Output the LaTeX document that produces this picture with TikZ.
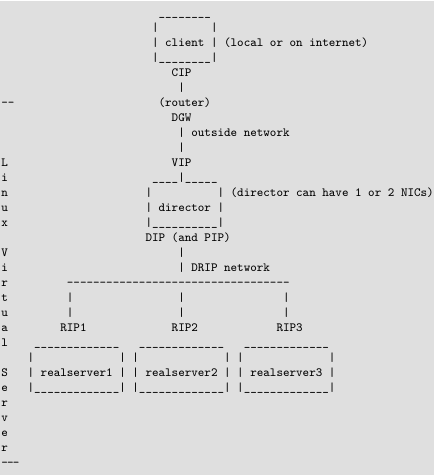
\documentclass[tikz,border=0pt]{standalone}
\definecolor{bg}{HTML}{DFDFDF}
\tikzset{txt/.style={anchor=base west,inner sep=0pt,outer sep=0pt,text=black,
  font=\fontsize{9.36pt}{11.25pt}\selectfont\ttfamily\frenchspacing}}
\newcommand\asciiput[4]{\node[txt] (#1) at ({1.4+6.55*(#2)},{16+15*(#3)}) {#4};}
\begin{document}
\begin{tikzpicture}[x=0.75pt,y=-0.75pt]
\fill[white] (0,0) rectangle (437,475);
\fill[bg] (0,1) rectangle (434,475);
\useasboundingbox (0,0) rectangle (437,475);
% left column: Linux Virtual Server
\foreach \ch/\rw in {L/10,i/11,n/12,u/13,x/14,V/16,i/17,r/18,t/19,u/20,a/21,l/22,S/24,e/25,r/26,v/27,e/28,r/29}
  {\asciiput{lv\rw}{0}{\rw}{\ch}}
\asciiput{topdash}{0}{6}{-\kern0pt-}
\asciiput{botdash}{0}{30}{\textemdash\kern-0.6pt\textemdash\kern-0.6pt\textemdash}
% client box
\asciiput{r0a}{24}{0}{\_\_\_\_\_\_\_\_}
\asciiput{r1a}{23}{1}{|}
\asciiput{r1b}{32}{1}{|}
\asciiput{r2a}{23}{2}{|}
\asciiput{client}{25}{2}{client}
\asciiput{r2b}{32}{2}{|}
\asciiput{clientnote}{34}{2}{(local or on internet)}
\asciiput{r3a}{23}{3}{|\_\_\_\_\_\_\_\_|}
\asciiput{cip}{26}{4}{CIP}
\asciiput{r5a}{27}{5}{|}
\asciiput{router}{24}{6}{(router)}
\asciiput{dgw}{26}{7}{DGW}
\asciiput{r8a}{27}{8}{|}
\asciiput{outside}{29}{8}{outside network}
\asciiput{r9a}{27}{9}{|}
\asciiput{vip}{26}{10}{VIP}
% director box
\asciiput{r11a}{23}{11}{\_\_\_\_|\_\_\_\_\_}
\asciiput{r12a}{22}{12}{|}
\asciiput{r12b}{33}{12}{|}
\asciiput{dirnote}{35}{12}{(director can have 1 or 2 NICs)}
\asciiput{r13a}{22}{13}{|}
\asciiput{director}{24}{13}{director}
\asciiput{r13b}{33}{13}{|}
\asciiput{r14a}{22}{14}{|\_\_\_\_\_\_\_\_\_\_|}
\asciiput{dip}{22}{15}{DIP (and PIP)}
\asciiput{r16a}{27}{16}{|}
\asciiput{r17a}{27}{17}{|}
\asciiput{drip}{29}{17}{DRIP network}
% DRIP network line
\foreach \c in {10,...,43} {\asciiput{d\c}{\c}{18}{-}}
\foreach \rw in {19,20} {
  \asciiput{b\rw a}{10}{\rw}{|}
  \asciiput{b\rw b}{27}{\rw}{|}
  \asciiput{b\rw c}{43}{\rw}{|}
}
\asciiput{rip1}{9}{21}{RIP1}
\asciiput{rip2}{26}{21}{RIP2}
\asciiput{rip3}{42}{21}{RIP3}
% real servers
\foreach \k/\c in {1/4,2/20,3/36} {
  \asciiput{top\k}{\c+1}{22}{\_\_\_\_\_\_\_\_\_\_\_\_\_}
  \asciiput{la\k}{\c}{23}{|}
  \asciiput{ra\k}{\c+14}{23}{|}
  \asciiput{lb\k}{\c}{24}{|}
  \asciiput{rs\k}{\c+2}{24}{realserver\k}
  \asciiput{rb\k}{\c+14}{24}{|}
  \asciiput{bot\k}{\c}{25}{|\_\_\_\_\_\_\_\_\_\_\_\_\_|}
}
\end{tikzpicture}
\end{document}
